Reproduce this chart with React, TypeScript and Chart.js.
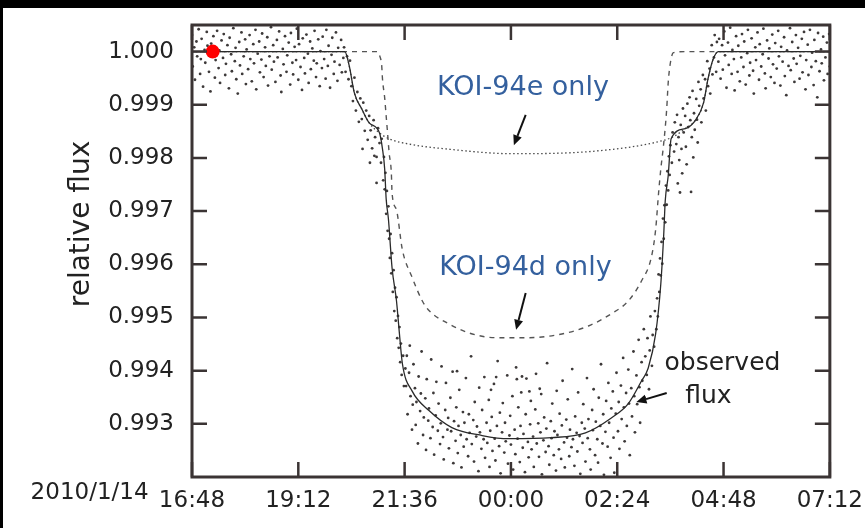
import React, { useEffect, useRef } from 'react';
import { Chart, registerables } from 'chart.js';

Chart.register(...registerables);

const FONT = '"DejaVu Sans", "Liberation Sans", sans-serif';

// Time axis: minutes after 2010/1/14 16:48
const tickMinutes = [0, 144, 288, 432, 576, 720, 864];
const tickLabels = ['16:48', '19:12', '21:36', '00:00', '02:24', '04:48', '07:12'];
const datePrefix = '2010/1/14';
const fluxTicks = [0.993, 0.994, 0.995, 0.996, 0.997, 0.998, 0.999, 1.0];
const yTitle = 'relative flux';

// observed flux model (solid)
const modelTime = [0, 207, 213, 220, 230, 240, 254, 258, 261, 263, 266, 271, 277, 281, 285, 298, 321, 352, 393, 429, 487, 533, 568, 591, 609, 618, 628, 635, 639, 641, 645, 649, 668, 683, 693, 699, 706, 713, 864];
const modelFlux = [1.0, 1.0, 0.99973, 0.99922, 0.99892, 0.99866, 0.99847, 0.99817, 0.99779, 0.99723, 0.99686, 0.99593, 0.99531, 0.99469, 0.99413, 0.99362, 0.99325, 0.99293, 0.99278, 0.99272, 0.99274, 0.99283, 0.99311, 0.99338, 0.99381, 0.99405, 0.99469, 0.99563, 0.99657, 0.99719, 0.99766, 0.99836, 0.99855, 0.99873, 0.99904, 0.99949, 0.99986, 1.0, 1.0];

// KOI-94d only (dashed)
const dOnlyTime = [0, 251, 254, 257, 258, 261, 263, 265, 267, 270, 271, 277, 285, 298, 312, 321, 348, 375, 412, 456, 501, 537, 568, 591, 609, 622, 628, 632, 635, 639, 643, 645, 648, 652, 668, 864];
const dOnlyFlux = [1.0, 1.0, 0.99993, 0.99973, 0.99949, 0.99913, 0.99879, 0.99845, 0.9981, 0.99772, 0.99734, 0.99702, 0.99627, 0.99576, 0.99531, 0.99513, 0.99488, 0.99471, 0.99462, 0.99462, 0.99469, 0.99484, 0.99507, 0.99531, 0.99569, 0.99612, 0.99665, 0.99734, 0.99779, 0.99828, 0.99892, 0.99941, 0.99979, 0.99998, 1.0, 1.0];

// KOI-94e only (dotted)
const eOnlyTime = [0, 207, 213, 220, 230, 240, 254, 267, 298, 344, 433, 547, 636, 652, 668, 683, 693, 699, 706, 713, 864];
const eOnlyFlux = [1.0, 1.0, 0.99973, 0.99922, 0.99892, 0.99866, 0.99847, 0.99836, 0.99825, 0.99817, 0.99808, 0.99813, 0.99832, 0.9984, 0.99855, 0.99873, 0.99904, 0.99949, 0.99986, 1.0, 1.0];

// observed data points [minute, flux]
const preTransit = [
  [0, 1.00031], [1, 0.99972], [3, 1.00008], [4, 0.99947], [6, 1.00019], [7, 0.99991], [9, 1.00042], [11, 0.99958], [12, 0.99986], [13, 1.00024],
  [15, 0.99934], [17, 1.00003], [18, 0.99979], [20, 1.00037], [21, 1.00011], [23, 0.99962], [25, 0.99925], [26, 1.00015], [27, 0.99993], [29, 1.00029],
  [31, 0.99951], [32, 0.99984], [34, 1.00039], [36, 0.99969], [37, 1.00002], [38, 0.99941], [40, 1.00021], [42, 0.99988], [43, 1.00033], [45, 0.99956],
  [46, 0.99977], [48, 1.00012], [50, 0.99931], [51, 1.00026], [53, 0.99995], [54, 0.99963], [56, 1.00044], [58, 0.99982], [59, 1.00007], [60, 0.99948],
  [62, 0.99921], [64, 1.00018], [65, 0.99974], [67, 1.00036], [68, 0.99958], [70, 0.99991], [72, 1.00023], [73, 0.99939], [74, 1.00004], [76, 0.99967],
  [78, 1.00031], [79, 0.99986], [81, 0.99944], [83, 1.00014], [84, 0.99978], [86, 1.00041], [87, 0.99929], [89, 0.99996], [91, 1.00019], [92, 0.99961],
  [94, 0.99985], [95, 1.00034], [97, 0.99952], [99, 1.00008], [100, 0.99973], [102, 1.00027], [103, 0.99936], [105, 0.99991], [107, 1.00046], [108, 0.99966],
  [110, 1.00012], [111, 0.99981], [113, 0.99943], [115, 1.00022], [116, 0.99989], [118, 1.00038], [120, 0.99955], [121, 0.99924], [123, 1.00005], [124, 0.99976],
  [126, 1.00029], [128, 0.99962], [129, 0.99993], [131, 1.00017], [133, 0.99938], [134, 1.00035], [136, 0.99979], [137, 0.99957], [139, 1.00009], [141, 0.99984],
  [142, 1.00043], [144, 0.99947], [145, 1.00014], [147, 0.99971], [149, 0.99928], [150, 1.00025], [152, 0.99988], [153, 0.99959], [155, 1.00032], [157, 0.99996],
  [158, 0.99941], [160, 1.00019], [161, 0.99967], [163, 1.00006], [165, 0.99983], [166, 1.00039], [168, 0.99952], [169, 0.99978], [171, 1.00023], [173, 0.99935],
  [174, 1.00001], [176, 0.99969], [177, 1.00028], [179, 0.99986], [181, 0.99949], [182, 1.00041], [184, 0.99973], [185, 1.00011], [187, 0.99932], [189, 0.99994],
  [190, 1.00026], [192, 0.99958], [193, 0.99981], [195, 1.00036], [197, 0.99945], [198, 1.00007], [200, 0.99975], [202, 1.00022], [203, 0.99961], [205, 0.99988],
];
const ingress = [
  [206, 1.00008], [208, 0.99962], [210, 0.99991], [212, 0.99948], [214, 0.99983], [216, 0.99935], [218, 0.99907], [220, 0.99951], [222, 0.99889], [224, 0.99924],
  [226, 0.99868], [228, 0.99912], [230, 0.99873], [231, 0.99817], [232, 0.99904], [234, 0.99851], [236, 0.99889], [238, 0.99834], [240, 0.99879], [241, 0.99791],
  [242, 0.99852], [244, 0.99818], [246, 0.99871], [247, 0.99804], [248, 0.99839], [250, 0.99802], [250, 0.99753], [252, 0.99856], [254, 0.99828], [256, 0.99791],
  [257, 0.99836], [259, 0.99758], [260, 0.99802], [261, 0.99741], [262, 0.99772], [263, 0.99695], [264, 0.99738], [265, 0.99663], [266, 0.99709], [267, 0.99648],
  [268, 0.99612], [269, 0.99657], [270, 0.99583], [271, 0.99621], [272, 0.99548], [273, 0.99589], [274, 0.99512], [275, 0.99556], [276, 0.99494], [277, 0.99538],
  [278, 0.99461], [279, 0.99503], [280, 0.99443], [281, 0.99482], [282, 0.99416], [283, 0.99451], [284, 0.99392], [286, 0.99428], [287, 0.99371], [289, 0.99404],
];
const transitBottom = [
  [290, 0.99371], [291, 0.99428], [292, 0.99318], [294, 0.99396], [295, 0.99447], [296, 0.99352], [298, 0.99289], [299, 0.99336], [300, 0.99412], [302, 0.99367],
  [303, 0.99298], [304, 0.99341], [306, 0.99263], [307, 0.99389], [309, 0.99324], [310, 0.99357], [311, 0.99436], [313, 0.99279], [314, 0.99312], [316, 0.99348],
  [317, 0.99251], [318, 0.99384], [320, 0.99306], [321, 0.99329], [323, 0.99273], [324, 0.99421], [326, 0.99294], [327, 0.99358], [328, 0.99242], [330, 0.99316],
  [331, 0.99379], [333, 0.99287], [334, 0.99338], [336, 0.99262], [337, 0.99301], [338, 0.99408], [340, 0.99275], [341, 0.99233], [343, 0.99326], [344, 0.99377],
  [346, 0.99289], [347, 0.99311], [348, 0.99254], [350, 0.99349], [351, 0.99286], [353, 0.99398], [354, 0.99226], [355, 0.99305], [357, 0.99268], [358, 0.99331],
  [359, 0.99399], [360, 0.99245], [361, 0.99296], [362, 0.99364], [364, 0.99279], [365, 0.99218], [367, 0.99322], [368, 0.99257], [369, 0.99302], [371, 0.99386],
  [372, 0.99271], [374, 0.99239], [375, 0.99318], [376, 0.99283], [378, 0.99427], [379, 0.99262], [381, 0.99307], [382, 0.99229], [383, 0.99341], [385, 0.99276],
  [386, 0.99295], [388, 0.99211], [389, 0.99368], [390, 0.99284], [392, 0.99253], [393, 0.99326], [395, 0.99271], [396, 0.99388], [397, 0.99236], [399, 0.99302],
  [400, 0.99264], [402, 0.99345], [403, 0.99219], [404, 0.99287], [405, 0.99364], [406, 0.99313], [407, 0.99249], [409, 0.99375], [410, 0.99272], [411, 0.99231],
  [412, 0.99388], [413, 0.99296], [414, 0.99418], [416, 0.99258], [417, 0.99321], [418, 0.99207], [420, 0.99284], [421, 0.99339], [423, 0.99246], [424, 0.99302],
  [425, 0.99267], [427, 0.99391], [428, 0.99225], [430, 0.99278], [431, 0.99315], [432, 0.99261], [434, 0.99352], [435, 0.99214], [437, 0.99289], [438, 0.99243],
  [439, 0.99406], [440, 0.99384], [441, 0.99272], [442, 0.99331], [444, 0.99228], [445, 0.99296], [446, 0.99359], [447, 0.99389], [448, 0.99255], [449, 0.99281],
  [451, 0.99209], [452, 0.99318], [453, 0.99385], [455, 0.99266], [456, 0.99237], [457, 0.99361], [458, 0.99299], [459, 0.99343], [460, 0.99252], [462, 0.99276],
  [463, 0.99219], [465, 0.99327], [466, 0.99394], [467, 0.99263], [469, 0.99301], [470, 0.99238], [471, 0.99366], [472, 0.99284], [473, 0.99356], [474, 0.99205],
  [476, 0.99269], [477, 0.99312], [479, 0.99247], [480, 0.99291], [481, 0.99414], [483, 0.99258], [484, 0.99223], [486, 0.99305], [487, 0.99273], [488, 0.99338],
  [490, 0.99241], [491, 0.99286], [493, 0.99212], [494, 0.99362], [495, 0.99279], [497, 0.99252], [498, 0.99319], [500, 0.99234], [501, 0.99297], [502, 0.99381],
  [504, 0.99265], [505, 0.99218], [507, 0.99308], [508, 0.99274], [509, 0.99346], [511, 0.99239], [512, 0.99289], [514, 0.99256], [515, 0.99403], [516, 0.99271],
  [518, 0.99221], [519, 0.99314], [521, 0.99283], [522, 0.99248], [523, 0.99359], [525, 0.99277], [526, 0.99206], [528, 0.99302], [529, 0.99264], [530, 0.99337],
  [532, 0.99291], [533, 0.99229], [535, 0.99386], [536, 0.99273], [537, 0.99309], [539, 0.99252], [540, 0.99214], [542, 0.99326], [543, 0.99288], [544, 0.99365],
  [546, 0.99241], [547, 0.99304], [549, 0.99271], [550, 0.99227], [551, 0.99349], [553, 0.99296], [554, 0.99412], [556, 0.99263], [557, 0.99318], [558, 0.99204],
  [560, 0.99285], [561, 0.99343], [563, 0.99257], [564, 0.99377], [565, 0.99302], [567, 0.99236], [568, 0.99329], [570, 0.99361], [571, 0.99274], [572, 0.99208],
  [574, 0.99319], [575, 0.99396], [577, 0.99286], [578, 0.99341], [579, 0.99253], [581, 0.99372], [582, 0.99309], [584, 0.99424], [585, 0.99331], [586, 0.99267],
  [588, 0.99358], [589, 0.99296], [591, 0.99402], [592, 0.99338], [593, 0.99241], [595, 0.99367], [596, 0.99314], [598, 0.99436], [599, 0.99352], [600, 0.99284],
  [602, 0.99391], [603, 0.99337], [605, 0.99458], [606, 0.99369], [607, 0.99302], [609, 0.99416], [610, 0.99381], [612, 0.99478], [613, 0.99349], [614, 0.99427],
  [616, 0.99392], [617, 0.99461], [619, 0.99365], [620, 0.99438], [621, 0.99502], [623, 0.99409], [624, 0.99467],
];
const egress = [
  [626, 0.99445], [627, 0.99512], [629, 0.99478], [630, 0.99536], [631, 0.99502], [632, 0.99581], [633, 0.99548], [634, 0.99611], [635, 0.99579], [636, 0.99642],
  [637, 0.99601], [638, 0.99686], [639, 0.99648], [640, 0.99711], [641, 0.99679], [642, 0.99748], [643, 0.99712], [644, 0.99775], [645, 0.99739], [646, 0.99803],
  [647, 0.99768], [648, 0.99824], [650, 0.99791], [651, 0.99848], [653, 0.99812], [654, 0.99867], [656, 0.99826], [657, 0.99881], [658, 0.99752], [659, 0.99839],
  [660, 0.99796], [661, 0.99735], [662, 0.99862], [663, 0.99817], [664, 0.99771], [665, 0.99893], [666, 0.99848], [668, 0.99879], [669, 0.99821], [670, 0.99788],
  [671, 0.99902], [672, 0.99858], [674, 0.99914], [675, 0.99871], [676, 0.99736], [677, 0.99839], [678, 0.99926], [679, 0.99801], [680, 0.99884], [681, 0.99853],
  [683, 0.99911], [684, 0.99872], [685, 0.99829], [686, 0.99943], [687, 0.99898], [689, 0.99929], [690, 0.99867], [692, 0.99956], [693, 0.99912], [695, 0.99948],
  [696, 0.99889], [698, 0.99982], [699, 0.99935], [701, 0.99968], [702, 0.99921], [704, 1.00012], [705, 0.99957], [707, 0.99989], [708, 1.00031], [710, 0.99962],
  [711, 1.00018],
];
const postTransit = [
  [713, 0.99981], [714, 1.00024], [716, 0.99949], [718, 1.00012], [719, 0.99966], [721, 1.00038], [722, 0.99993], [724, 0.99932], [726, 1.00017], [727, 0.99975],
  [729, 1.00045], [731, 0.99958], [732, 1.00003], [734, 0.99986], [735, 0.99927], [737, 1.00029], [739, 0.99962], [740, 1.00011], [742, 0.99944], [744, 0.99989],
  [745, 1.00033], [747, 0.99971], [748, 1.00019], [750, 0.99938], [752, 0.99997], [753, 1.00041], [755, 0.99955], [756, 0.99979], [758, 1.00025], [760, 0.99964],
  [761, 0.99921], [763, 1.00008], [764, 0.99984], [766, 1.00036], [768, 0.99947], [769, 1.00014], [771, 0.99972], [773, 0.99995], [774, 1.00043], [776, 0.99959],
  [777, 0.99931], [779, 1.00021], [781, 0.99987], [782, 1.00006], [784, 0.99952], [786, 1.00032], [787, 0.99976], [789, 0.99941], [790, 1.00016], [792, 0.99968],
  [794, 1.00039], [795, 0.99991], [797, 0.99936], [798, 1.00009], [800, 0.99981], [802, 1.00027], [803, 0.99954], [805, 0.99918], [806, 1.00002], [808, 0.99973],
  [810, 1.00044], [811, 0.99965], [813, 1.00018], [815, 0.99987], [816, 0.99943], [818, 1.00031], [819, 0.99977], [821, 1.00007], [823, 0.99949], [824, 0.99992],
  [826, 1.00024], [827, 0.99961], [829, 1.00037], [831, 0.99929], [832, 0.99984], [834, 1.00013], [835, 0.99956], [837, 1.00041], [839, 0.99971], [840, 0.99998],
  [842, 0.99937], [843, 1.00022], [845, 0.99982], [847, 0.99914], [848, 1.00035], [850, 0.99963], [852, 1.00004], [853, 0.99978], [855, 1.00028], [856, 0.99946],
  [858, 0.99989], [860, 1.00017], [861, 0.99958], [863, 1.00033], [864, 0.99972],
];

// highlighted point
const markerTime = [28];
const markerFlux = [1.0];

// annotation texts anchored in data coordinates (left / baseline)
const noteTexts = ['KOI-94e only', 'KOI-94d only', 'observed', 'flux'];
const noteTime = [332, 335, 640, 668];
const noteFlux = [0.99918, 0.9958, 0.99401, 0.99339];
// arrows: from (t0,f0) to head at (t1,f1)
const arrowFrom = [[452, 0.99881], [452, 0.99546], [643, 0.99358]];
const arrowTo = [[436, 0.99824], [439, 0.99477], [602, 0.99341]];

const AXIS_COLOR = '#3b3434';
const TEXT_COLOR = '#222';
const BLUE = '#34609e';

const toXY = (ts: number[], fs: number[]) => ts.map((t, i) => ({ x: t, y: fs[i] }));
const pairsToXY = (arr: number[][]) => arr.map(([t, f]) => ({ x: t, y: f }));

const decorPlugin = {
  id: 'decor',
  beforeDraw(chart: any) {
    const ctx = chart.ctx;
    ctx.save();
    ctx.fillStyle = '#000';
    ctx.fillRect(0, 0, chart.width, chart.height);
    ctx.fillStyle = '#fff';
    ctx.fillRect(3, 8, chart.width - 3, chart.height - 8);
    ctx.restore();
  },
  afterDatasetsDraw(chart: any) {
    const { ctx, chartArea: a, scales } = chart;
    const xs = scales.x;
    const ys = scales.y;
    const TICK = 15;
    ctx.save();
    // frame
    ctx.strokeStyle = AXIS_COLOR;
    ctx.lineWidth = 3;
    ctx.strokeRect(a.left, a.top, a.right - a.left, a.bottom - a.top);
    // inward ticks on all four sides
    ctx.lineWidth = 2.5;
    ctx.beginPath();
    xs.ticks.forEach((t: any) => {
      const px = xs.getPixelForValue(t.value);
      ctx.moveTo(px, a.bottom);
      ctx.lineTo(px, a.bottom - TICK);
      ctx.moveTo(px, a.top);
      ctx.lineTo(px, a.top + TICK);
    });
    ys.ticks.forEach((t: any) => {
      const py = ys.getPixelForValue(t.value);
      ctx.moveTo(a.left, py);
      ctx.lineTo(a.left + TICK, py);
      ctx.moveTo(a.right, py);
      ctx.lineTo(a.right - TICK, py);
    });
    ctx.stroke();

    // annotation texts
    ctx.textAlign = 'left';
    ctx.textBaseline = 'alphabetic';
    noteTexts.forEach((txt, i) => {
      const isKoi = i < 2;
      ctx.font = `${isKoi ? 27 : 25}px ${FONT}`;
      ctx.fillStyle = isKoi ? BLUE : TEXT_COLOR;
      ctx.fillText(txt, xs.getPixelForValue(noteTime[i]), ys.getPixelForValue(noteFlux[i]));
    });

    // arrows
    ctx.strokeStyle = '#111';
    ctx.fillStyle = '#111';
    ctx.lineWidth = 2;
    arrowFrom.forEach((from, i) => {
      const x0 = xs.getPixelForValue(from[0]);
      const y0 = ys.getPixelForValue(from[1]);
      const x1 = xs.getPixelForValue(arrowTo[i][0]);
      const y1 = ys.getPixelForValue(arrowTo[i][1]);
      const ang = Math.atan2(y1 - y0, x1 - x0);
      const L = 10;
      const W = 4.5;
      const bx = x1 - L * Math.cos(ang);
      const by = y1 - L * Math.sin(ang);
      ctx.beginPath();
      ctx.moveTo(x0, y0);
      ctx.lineTo(bx, by);
      ctx.stroke();
      ctx.beginPath();
      ctx.moveTo(x1, y1);
      ctx.lineTo(bx + W * Math.sin(ang), by - W * Math.cos(ang));
      ctx.lineTo(bx - W * Math.sin(ang), by + W * Math.cos(ang));
      ctx.closePath();
      ctx.fill();
    });

    // y axis title
    ctx.save();
    ctx.font = `28px ${FONT}`;
    ctx.fillStyle = TEXT_COLOR;
    ctx.translate(a.left - 103, (a.top + a.bottom) / 2 - 27);
    ctx.rotate(-Math.PI / 2);
    ctx.textAlign = 'center';
    ctx.textBaseline = 'alphabetic';
    ctx.fillText(yTitle, 0, 0);
    ctx.restore();

    // date prefix of the first time label
    ctx.font = `23px ${FONT}`;
    ctx.fillStyle = TEXT_COLOR;
    ctx.textAlign = 'right';
    ctx.textBaseline = 'middle';
    const firstW = ctx.measureText(tickLabels[0]).width;
    const spaceW = ctx.measureText(' ').width;
    const ly = xs.top + 2 + (23 * 1.2) / 2;
    ctx.fillText(datePrefix, xs.getPixelForValue(tickMinutes[0]) - firstW / 2 - spaceW - 3, ly);
    ctx.restore();
  },
};

export default function App() {
  const ref = useRef<HTMLCanvasElement>(null);
  useEffect(() => {
    if (!ref.current) return;
    const obs = [...preTransit, ...ingress, ...transitBottom, ...egress, ...postTransit];
    const chart = new Chart(ref.current, {
      type: 'scatter',
      data: {
        datasets: [
          {
            label: 'marker',
            data: toXY(markerTime, markerFlux),
            pointRadius: 7,
            pointBackgroundColor: '#ff0000',
            pointBorderWidth: 0,
            showLine: false,
          } as any,
          {
            label: 'observed flux model',
            data: toXY(modelTime, modelFlux),
            showLine: true,
            borderColor: '#2a2a2a',
            borderWidth: 1.3,
            pointRadius: 0,
            cubicInterpolationMode: 'monotone',
          } as any,
          {
            label: 'KOI-94d only',
            data: toXY(dOnlyTime, dOnlyFlux),
            showLine: true,
            borderColor: '#555',
            borderWidth: 1.4,
            borderDash: [5, 5],
            pointRadius: 0,
            cubicInterpolationMode: 'monotone',
          } as any,
          {
            label: 'KOI-94e only',
            data: toXY(eOnlyTime, eOnlyFlux),
            showLine: true,
            borderColor: '#4a4a4a',
            borderWidth: 1.3,
            borderDash: [1.5, 2.5],
            pointRadius: 0,
            cubicInterpolationMode: 'monotone',
          } as any,
          {
            label: 'observed',
            data: pairsToXY(obs),
            pointRadius: 1.4,
            pointBackgroundColor: 'rgba(40,36,36,0.9)',
            pointBorderWidth: 0,
            showLine: false,
          } as any,
        ],
      },
      options: {
        animation: false,
        responsive: false,
        devicePixelRatio: 1,
        layout: { padding: { left: 0, top: 25, right: 33, bottom: 0 } },
        plugins: { legend: { display: false }, tooltip: { enabled: false } },
        events: [],
        scales: {
          x: {
            type: 'linear',
            min: 0,
            max: 864,
            grid: { display: false },
            border: { display: false },
            ticks: {
              autoSkip: false,
              maxRotation: 0,
              padding: 2,
              color: TEXT_COLOR,
              font: { family: FONT, size: 23 },
              callback: (v: any) => {
                const i = tickMinutes.indexOf(Number(v));
                return i >= 0 ? tickLabels[i] : '';
              },
            },
            afterBuildTicks: (s: any) => {
              s.ticks = tickMinutes.map((v) => ({ value: v }));
            },
            afterFit: (s: any) => {
              s.height = 51;
            },
          },
          y: {
            type: 'linear',
            min: 0.992,
            max: 1.0005,
            grid: { display: false },
            border: { display: false },
            ticks: {
              padding: 10,
              color: TEXT_COLOR,
              font: { family: FONT, size: 23 },
              callback: (v: any) => Number(v).toFixed(3),
            },
            afterBuildTicks: (s: any) => {
              s.ticks = fluxTicks.map((v) => ({ value: v }));
            },
            afterFit: (s: any) => {
              s.width = 192;
            },
          },
        },
      },
      plugins: [decorPlugin],
    });
    return () => chart.destroy();
  }, []);
  return (
    <div style={{ position: 'fixed', left: 0, top: 0, width: 865, height: 528, background: '#000' }}>
      <canvas ref={ref} width={865} height={528} style={{ display: 'block', width: 865, height: 528 }} />
    </div>
  );
}
